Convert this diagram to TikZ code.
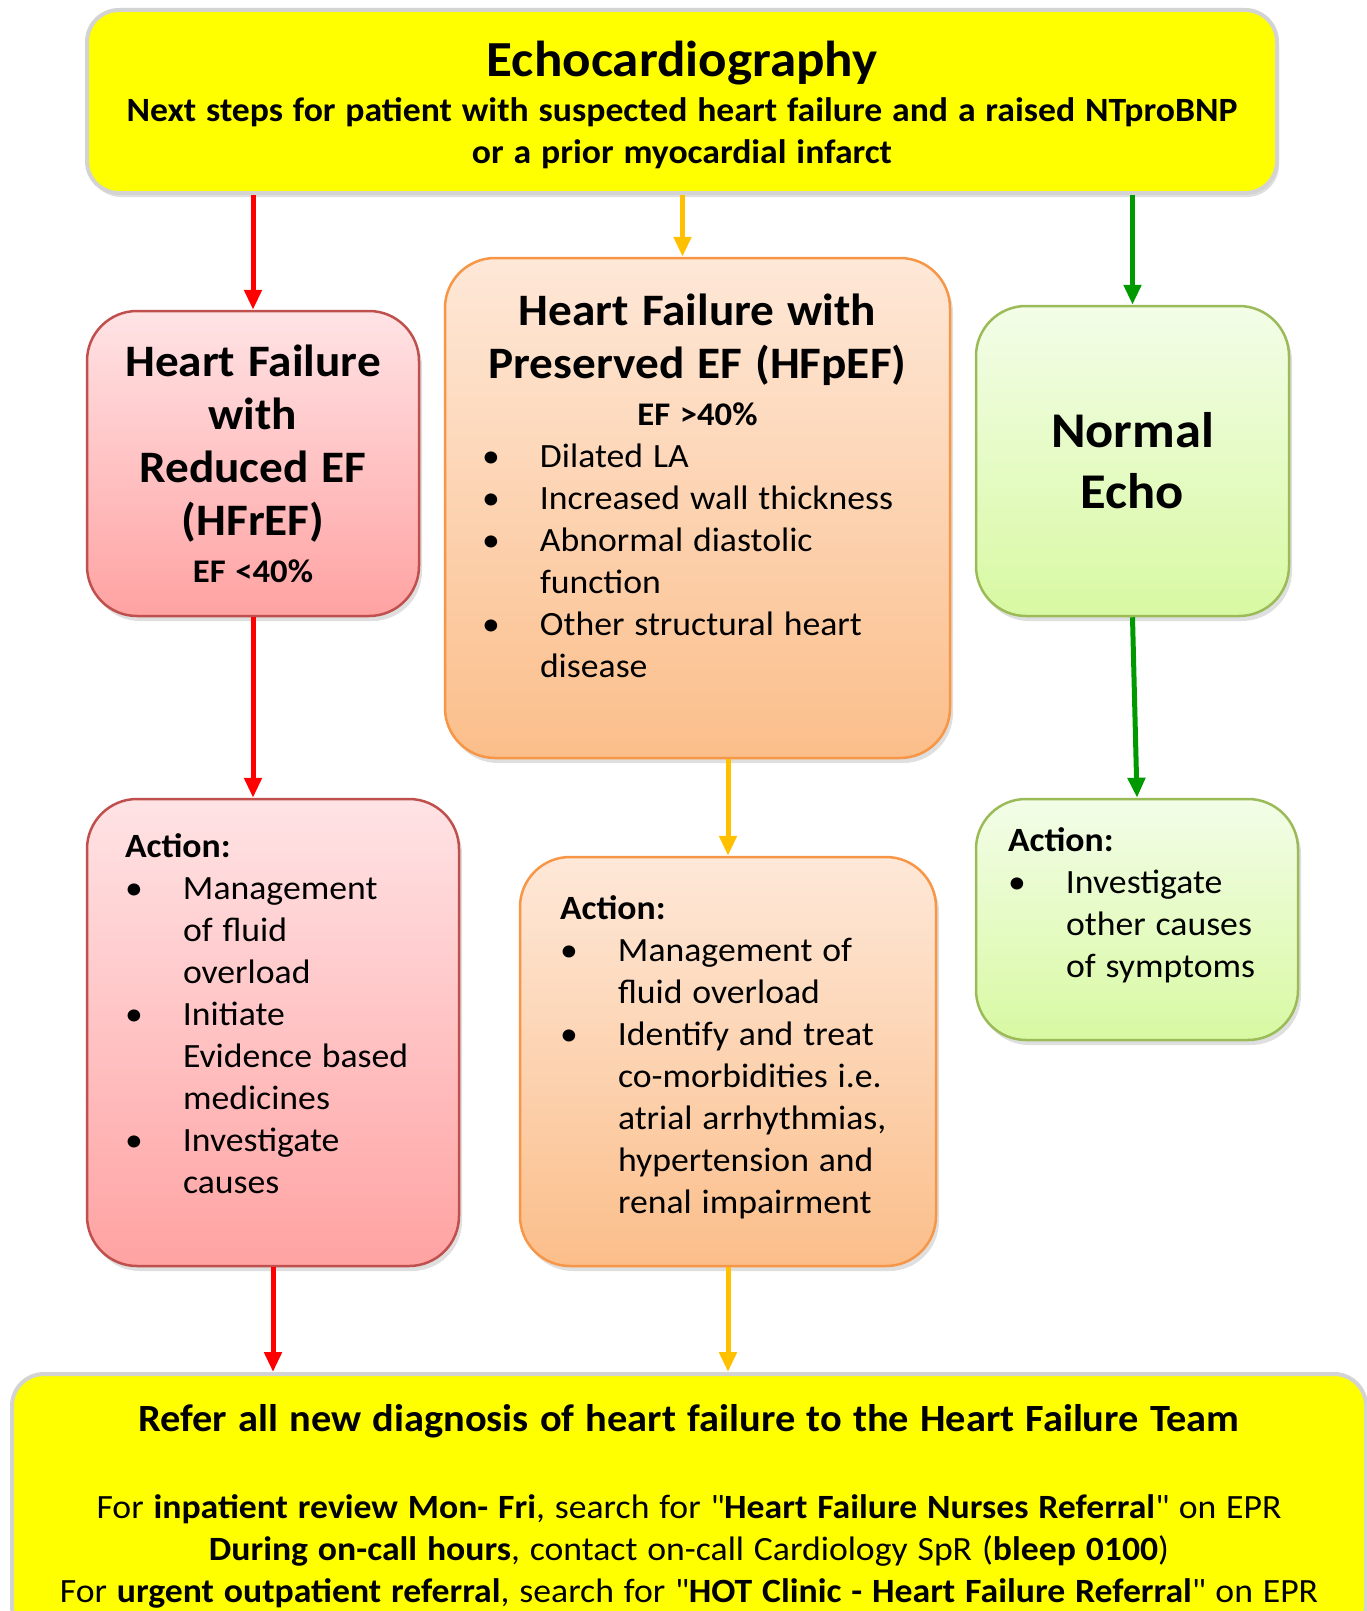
\documentclass[tikz,border=0pt]{standalone}
\usepackage{fontspec}
\setmainfont{Carlito}[FakeStretch=1.05]
\usetikzlibrary{positioning,calc,shadows,arrows.meta}

\definecolor{hfyellow}{HTML}{FFFF00}
\definecolor{hfgrey}{HTML}{D3D3D3}
\definecolor{redtop}{HTML}{FFE3E5}
\definecolor{redbot}{HTML}{FFA2A2}
\definecolor{rededge}{HTML}{C0504D}
\definecolor{orgtop}{HTML}{FEE8D8}
\definecolor{orgbot}{HTML}{FBBE8A}
\definecolor{orgedge}{HTML}{F79646}
\definecolor{grntop}{HTML}{F3FDE8}
\definecolor{grnbot}{HTML}{D8F9A2}
\definecolor{grnedge}{HTML}{9BBB59}
\definecolor{arrred}{HTML}{FF0000}
\definecolor{arrorg}{HTML}{FFC000}
\definecolor{arrgrn}{HTML}{009A00}

\newcommand{\gaps}{\spaceskip=0.29em\relax}
\newcommand{\ttlfont}{\fontsize{50.5}{58}\selectfont\bfseries\gaps}
\newcommand{\subfont}{\fontsize{34}{42}\selectfont\bfseries\gaps}
\newcommand{\hdfont}{\fontsize{45}{53}\selectfont\bfseries\gaps}
\newcommand{\effont}{\fontsize{33}{47}\selectfont\bfseries\gaps}
\newcommand{\nmfont}{\fontsize{50}{61}\selectfont\bfseries\gaps}
\newcommand{\bdfont}{\fontsize{34}{42}\selectfont\gaps}
\newcommand{\rffont}{\fontsize{38.5}{42}\selectfont\bfseries\gaps}
\newcommand{\bitem}{\makebox[58pt][l]{\textbullet}}
\newcommand{\bcont}{\hspace*{58pt}}
\newcommand{\padbelow}[1]{\par\nointerlineskip\vbox to #1{}}

\begin{document}
\begin{tikzpicture}[x=1pt,y=-1pt,
		yellowbox/.style={draw=hfgrey,line width=4pt,fill=hfyellow,rounded corners=32pt,
			drop shadow={shadow xshift=2pt,shadow yshift=-4pt,opacity=0.25}},
		colbox/.style={line width=2.5pt,rounded corners=50pt,
			drop shadow={shadow xshift=3pt,shadow yshift=-5pt,opacity=0.25}},
		redbox/.style={colbox,draw=rededge,top color=redtop,bottom color=redbot},
		orgbox/.style={colbox,draw=orgedge,top color=orgtop,bottom color=orgbot},
		grnbox/.style={colbox,draw=grnedge,top color=grntop,bottom color=grnbot},
		flow/.style={line width=5pt,-{Triangle[length=20pt,width=17pt]}}]
	\useasboundingbox (0,0) rectangle (1367,1611);

	% echo result at the top
	\node[yellowbox,minimum width=1190pt,minimum height=183pt,text width=1160pt,align=center] (echo) at (682,101.5)
		{{\ttlfont\rule{0pt}{43pt}Echocardiography\par}\vspace{3pt}{\subfont Next steps for patient with suspected heart failure and a raised NTproBNP\\or a prior myocardial infarct\par}};

	% three outcomes
	\node[redbox,minimum width=332pt,minimum height=305pt,text width=300pt,align=center] (hfr) at (253,463.5)
		{{\hdfont Heart Failure\\with\\Reduced EF\\(HFrEF)\par}{\effont EF <40\%\par}};
	\node[orgbox,minimum width=505pt,minimum height=500pt,text width=431pt,align=center] (hfp) at (697.5,508)
		{{\hdfont Heart Failure with\\Preserved EF (HFpEF)\par}{\effont EF >40\%\par}%
		{\bdfont\raggedright\bitem Dilated LA\\\bitem Increased wall thickness\\\bitem Abnormal diastolic\\\bcont function\\\bitem Other structural heart\\\bcont disease\par}\padbelow{44pt}};
	\node[grnbox,minimum width=313pt,minimum height=310pt,text width=280pt,align=center] (nrm) at (1132.5,461)
		{{\nmfont Normal\\Echo\par}};

	% actions
	\node[redbox,minimum width=372pt,minimum height=467pt,text width=296pt,align=left] (acr) at (273,1032.5)
		{{\bdfont\textbf{Action:}\\\bitem Management\\\bcont of fluid\\\bcont overload\\\bitem Initiate\\\bcont Evidence based\\\bcont medicines\\\bitem Investigate\\\bcont causes\par}\padbelow{37pt}};
	\node[orgbox,minimum width=416pt,minimum height=409pt,text width=336pt,align=left] (acp) at (728,1061.5)
		{{\bdfont\textbf{Action:}\\\bitem Management of\\\bcont fluid overload\\\bitem Identify and treat\\\bcont co-morbidities i.e.\\\bcont atrial arrhythmias,\\\bcont hypertension and\\\bcont renal impairment\par}\padbelow{8pt}};
	\node[grnbox,minimum width=322pt,minimum height=241pt,text width=258pt,align=left] (acn) at (1137,919.5)
		{{\bdfont\textbf{Action:}\\\bitem Investigate\\\bcont other causes\\\bcont of symptoms\par}\padbelow{29pt}};

	% referral
	\node[yellowbox,minimum width=1354pt,minimum height=264pt,text width=1330pt,align=center] (refer) at (689,1506)
		{{\rffont Refer all new diagnosis of heart failure to the Heart Failure Team\par}\vspace{45pt}%
		{\bdfont For \textbf{inpatient review Mon- Fri}, search for \textquotedbl\textbf{Heart Failure Nurses Referral}\textquotedbl\ on EPR\\
		\textbf{During on-call hours}, contact on-call Cardiology SpR (\textbf{bleep 0100})\\
		For \textbf{urgent outpatient referral}, search for \textquotedbl\textbf{HOT Clinic - Heart Failure Referral}\textquotedbl\ on EPR\par}};

	\coordinate (hfptop) at ([xshift=-15pt]hfp.north);

	\draw[flow,arrred] (echo.south -| hfr.north) -- (hfr.north);
	\draw[flow,arrorg] (echo.south -| hfptop) -- (hfptop);
	\draw[flow,arrgrn] (echo.south -| nrm.north) -- (nrm.north);

	\draw[flow,arrred] (hfr.south) -- (hfr.south |- acr.north);
	\draw[flow,arrorg] (hfp.south -| acp.north) -- (acp.north);
	\draw[flow,arrgrn] (nrm.south) -- (acn.north);

	\draw[flow,arrred] (acr.south) -- (acr.south |- refer.north);
	\draw[flow,arrorg] (acp.south) -- (acp.south |- refer.north);
\end{tikzpicture}
\end{document}
